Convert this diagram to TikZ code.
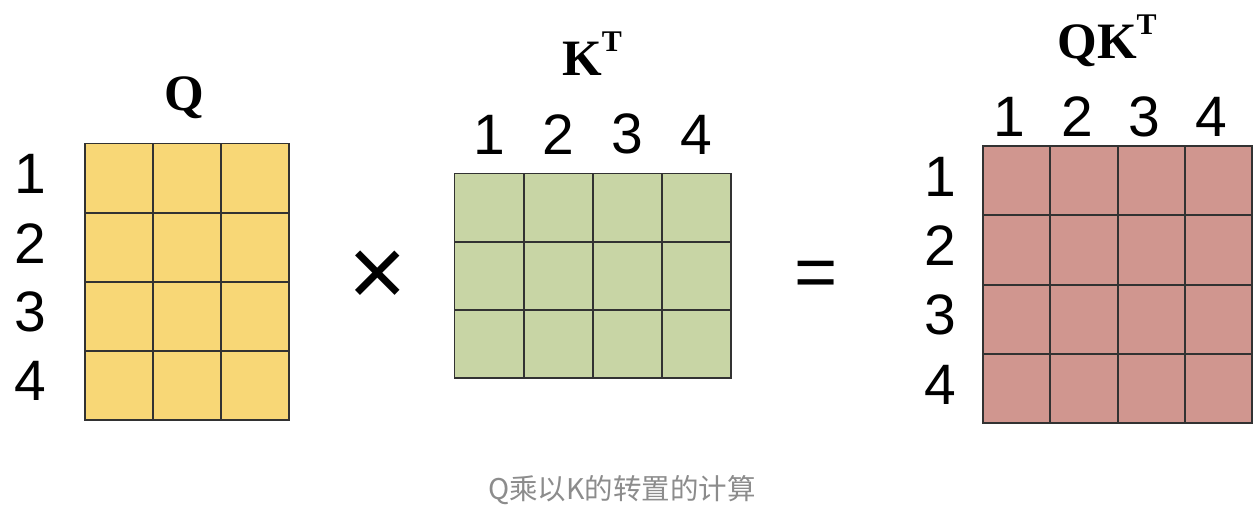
\documentclass[tikz,border=0pt]{standalone}
\usepackage{fontspec}
\setmainfont{Liberation Serif}
\setsansfont{Liberation Sans}
\newfontfamily\cjkfont{Noto Sans CJK SC}
\usetikzlibrary{positioning}
\definecolor{qyellow}{RGB}{248,215,118}
\definecolor{kgreen}{RGB}{200,213,165}
\definecolor{qkred}{RGB}{208,150,143}
\definecolor{gridline}{RGB}{50,50,50}
\definecolor{captiongray}{RGB}{140,140,140}
\newcommand{\supT}{\raisebox{24pt}{\fontsize{30}{30}\selectfont T}}

\begin{document}
\begin{tikzpicture}[
        x=1pt, y=-1pt,
        % one square of a matrix, placed by its top-left corner
        cell/.style={rectangle, fill=#1, inner sep=0pt, anchor=north west},
        gridpen/.style={draw=gridline, line width=1.6pt},
        idx/.style={inner sep=0pt, font=\sffamily\fontsize{57}{57}\selectfont},
        mname/.style={inner sep=0pt, anchor=base, font=\bfseries\fontsize{51}{51}\selectfont},
        opsign/.style={inner sep=0pt, font=\sffamily\fontsize{#1}{#1}\selectfont}
    ]
        \useasboundingbox (0,0) rectangle (1260,522);

        % Q: 4 rows, 3 columns
        \foreach \r in {1,...,4}
            \foreach \c in {1,...,3}
                \node[cell=qyellow, minimum width=67.8pt, minimum height=69pt]
                    (q-\r-\c) at ({85+67.8*(\c-1)}, {143.5+69*(\r-1)}) {};
        \foreach \r in {1,...,4}
            \foreach \c in {1,...,3}
                \draw[gridpen] (q-\r-\c.north west) rectangle (q-\r-\c.south east);
        \foreach \r in {1,...,4}
            \node[idx, left=39pt of q-\r-1, yshift=4pt] (qrow\r) {\r};
        \node[mname] (qname) at (184,110) {Q};

        \node[opsign=100] (times) at (378,279) {×};

        % K transposed: 3 rows, 4 columns
        \foreach \r in {1,...,3}
            \foreach \c in {1,...,4}
                \node[cell=kgreen, minimum width=69pt, minimum height=68pt]
                    (k-\r-\c) at ({454.5+69*(\c-1)}, {173.5+68*(\r-1)}) {};
        \foreach \r in {1,...,3}
            \foreach \c in {1,...,4}
                \draw[gridpen] (k-\r-\c.north west) rectangle (k-\r-\c.south east);
        \foreach \c in {1,...,4}
            \node[idx, above=19pt of k-1-\c] (kcol\c) {\c};
        \node[mname] (kname) at (592,75) {K\supT};

        \node[opsign=74] (equals) at (816,279) {=};

        % result: 4 rows, 4 columns
        \foreach \r in {1,...,4}
            \foreach \c in {1,...,4}
                \node[cell=qkred, minimum width=67.2pt, minimum height=69.2pt]
                    (qk-\r-\c) at ({983+67.2*(\c-1)}, {146+69.2*(\r-1)}) {};
        \foreach \r in {1,...,4}
            \foreach \c in {1,...,4}
                \draw[gridpen] (qk-\r-\c.north west) rectangle (qk-\r-\c.south east);
        \foreach \r in {1,...,4}
            \node[idx, left=27pt of qk-\r-1, yshift=4pt] (qkrow\r) {\r};
        \foreach \c in {1,...,4}
            \node[idx, above=9pt of qk-1-\c, xshift=-7pt] (qkcol\c) {\c};
        \node[mname] (qkname) at (1107,58) {QK\supT};

        \node[inner sep=0pt, text=captiongray, font=\cjkfont\fontsize{28.5}{28.5}\selectfont]
            (caption) at (622,490) {Q乘以K的转置的计算};
    \end{tikzpicture}
\end{document}
